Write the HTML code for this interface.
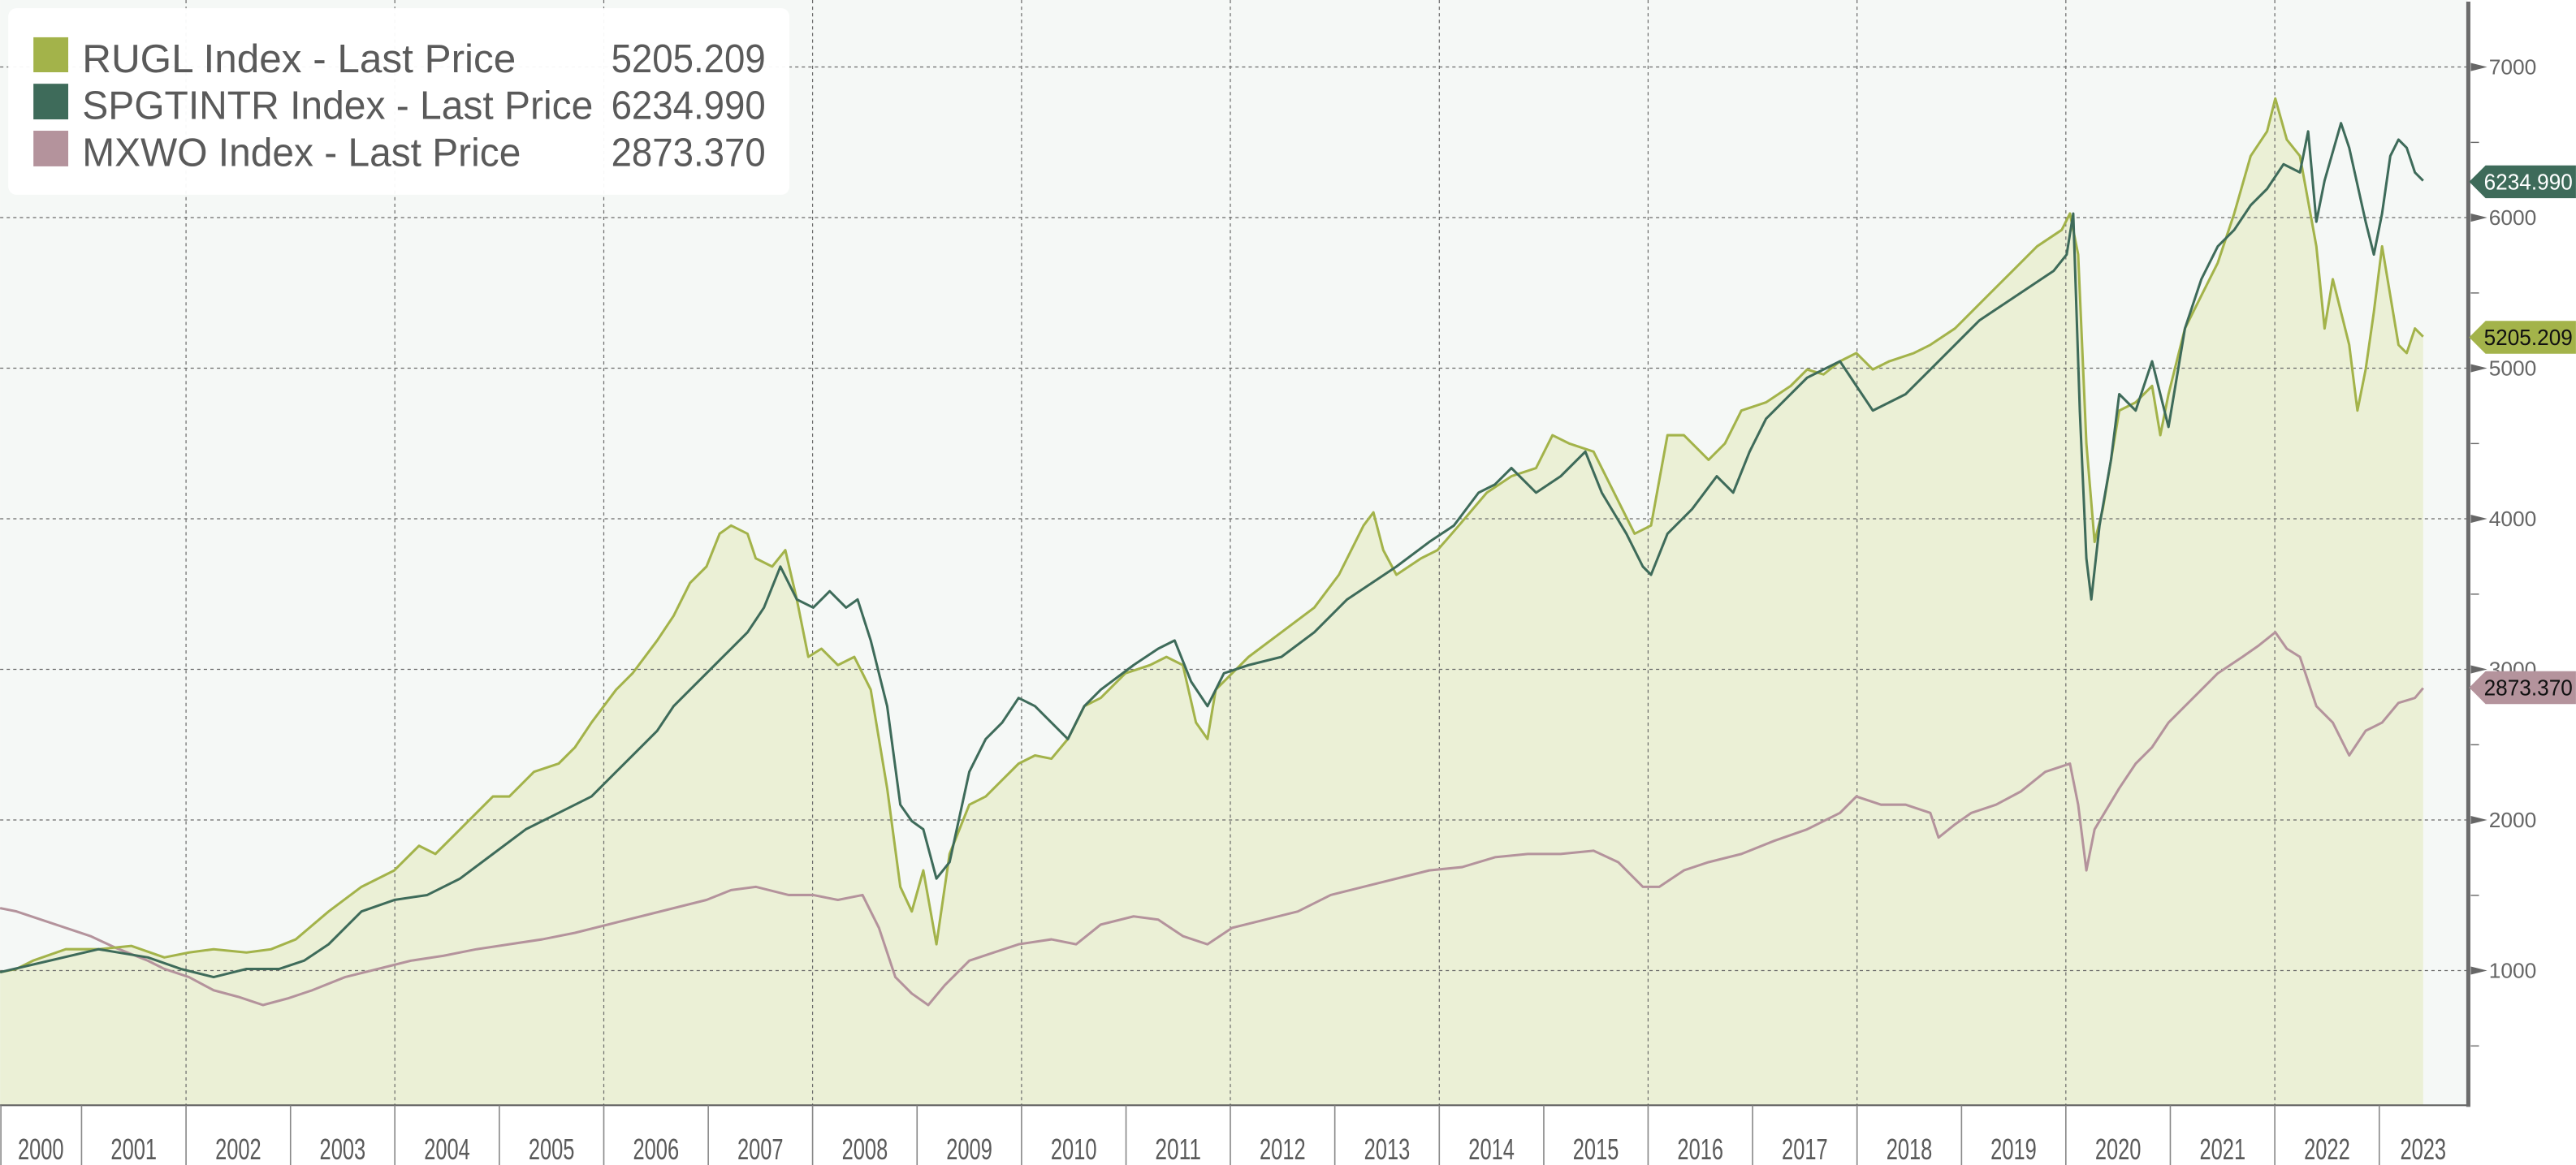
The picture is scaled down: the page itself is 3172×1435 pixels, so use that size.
<!DOCTYPE html>
<html><head><meta charset="utf-8"><style>html,body{margin:0;padding:0;background:#fff}svg{display:block}</style></head>
<body>
<svg width="3172" height="1435" viewBox="0 0 1568 709.4" xmlns="http://www.w3.org/2000/svg" font-family="'Liberation Sans', sans-serif">
<rect x="0" y="0" width="1568" height="709.4" fill="#fff"/>
<rect x="0" y="0" width="1502" height="673" fill="#f5f8f6"/>
<polygon fill="#ebf0d6" points="0,673 0,592 10,590 20,585 40,578 60,578 80,576 100,583 115,580 130,578 150,580 165,578 180,572 200,555 220,540 240,530 255,515 265,520 280,505 300,485 310,485 325,470 340,465 350,455 360,440 375,420 385,410 400,390 410,375 420,355 430,345 438,325 445,320 455,325 460,340 470,345 478,335 485,365 492,400 500,395 510,405 520,400 530,420 540,480 548,540 555,555 562,530 570,575 578,520 590,490 600,485 610,475 620,465 630,460 640,462 650,450 660,430 670,425 685,410 700,405 710,400 720,405 728,440 735,450 740,420 750,410 760,400 780,385 800,370 815,350 830,320 836,312 842,335 850,350 865,340 875,335 888,320 905,300 920,290 935,285 945,265 955,270 970,275 985,305 995,325 1005,320 1015,265 1025,265 1040,280 1050,270 1060,250 1075,245 1090,235 1100,225 1110,228 1120,220 1130,215 1140,225 1150,220 1165,215 1175,210 1190,200 1210,180 1225,165 1240,150 1255,140 1260,130 1265,155 1270,270 1275,330 1280,310 1285,280 1290,250 1300,245 1310,235 1315,265 1320,240 1330,200 1340,180 1350,160 1360,130 1370,95 1380,80 1385,60 1392,85 1400,95 1410,150 1415,200 1420,170 1430,210 1435,250 1440,225 1445,190 1450,150 1455,180 1460,210 1465,215 1470,200 1475,205 1475,673"/>
<g stroke="#6a6a6a" stroke-width="0.6" stroke-dasharray="2 2" fill="none">
<line x1="0" y1="591" x2="1502" y2="591"/><line x1="0" y1="499.3" x2="1502" y2="499.3"/><line x1="0" y1="407.6" x2="1502" y2="407.6"/><line x1="0" y1="315.9" x2="1502" y2="315.9"/><line x1="0" y1="224.2" x2="1502" y2="224.2"/><line x1="0" y1="132.5" x2="1502" y2="132.5"/><line x1="0" y1="40.8" x2="1502" y2="40.8"/>
<line x1="113.2" y1="0" x2="113.2" y2="673"/><line x1="240.3" y1="0" x2="240.3" y2="673"/><line x1="367.5" y1="0" x2="367.5" y2="673"/><line x1="494.6" y1="0" x2="494.6" y2="673"/><line x1="621.8" y1="0" x2="621.8" y2="673"/><line x1="748.9" y1="0" x2="748.9" y2="673"/><line x1="876.1" y1="0" x2="876.1" y2="673"/><line x1="1003.2" y1="0" x2="1003.2" y2="673"/><line x1="1130.4" y1="0" x2="1130.4" y2="673"/><line x1="1257.5" y1="0" x2="1257.5" y2="673"/><line x1="1384.7" y1="0" x2="1384.7" y2="673"/>
</g>
<g fill="none" stroke-width="1.5" stroke-linejoin="round">
<polyline stroke="#b4939c" points="0,553 10,555 25,560 40,565 55,570 70,577 90,585 100,590 115,595 130,603 145,607 160,612 175,608 190,603 210,595 230,590 250,585 270,582 290,578 310,575 330,572 350,568 370,563 390,558 410,553 430,548 445,542 460,540 480,545 495,545 510,548 525,545 535,565 545,595 555,605 565,612 575,600 590,585 605,580 620,575 640,572 655,575 670,563 690,558 705,560 720,570 735,575 750,565 770,560 790,555 810,545 830,540 850,535 870,530 890,528 910,522 930,520 950,520 970,518 985,525 1000,540 1010,540 1025,530 1040,525 1060,520 1080,512 1100,505 1120,495 1130,485 1145,490 1160,490 1175,495 1180,510 1190,502 1200,495 1215,490 1230,482 1245,470 1260,465 1265,490 1270,530 1275,505 1290,480 1300,465 1310,455 1320,440 1335,425 1350,410 1365,400 1375,393 1385,385 1392,395 1400,400 1410,430 1420,440 1430,460 1440,445 1450,440 1460,428 1470,425 1475,419"/>
<polyline stroke="#a3b34a" points="0,592 10,590 20,585 40,578 60,578 80,576 100,583 115,580 130,578 150,580 165,578 180,572 200,555 220,540 240,530 255,515 265,520 280,505 300,485 310,485 325,470 340,465 350,455 360,440 375,420 385,410 400,390 410,375 420,355 430,345 438,325 445,320 455,325 460,340 470,345 478,335 485,365 492,400 500,395 510,405 520,400 530,420 540,480 548,540 555,555 562,530 570,575 578,520 590,490 600,485 610,475 620,465 630,460 640,462 650,450 660,430 670,425 685,410 700,405 710,400 720,405 728,440 735,450 740,420 750,410 760,400 780,385 800,370 815,350 830,320 836,312 842,335 850,350 865,340 875,335 888,320 905,300 920,290 935,285 945,265 955,270 970,275 985,305 995,325 1005,320 1015,265 1025,265 1040,280 1050,270 1060,250 1075,245 1090,235 1100,225 1110,228 1120,220 1130,215 1140,225 1150,220 1165,215 1175,210 1190,200 1210,180 1225,165 1240,150 1255,140 1260,130 1265,155 1270,270 1275,330 1280,310 1285,280 1290,250 1300,245 1310,235 1315,265 1320,240 1330,200 1340,180 1350,160 1360,130 1370,95 1380,80 1385,60 1392,85 1400,95 1410,150 1415,200 1420,170 1430,210 1435,250 1440,225 1445,190 1450,150 1455,180 1460,210 1465,215 1470,200 1475,205"/>
<polyline stroke="#3e6b5a" points="0,592 30,585 60,578 90,583 110,590 130,595 150,590 170,590 185,585 200,575 220,555 240,548 260,545 280,535 300,520 320,505 340,495 360,485 375,470 390,455 400,445 410,430 420,420 435,405 445,395 455,385 465,370 475,345 485,365 495,370 505,360 515,370 522,365 530,390 540,430 548,490 555,500 562,505 570,535 578,525 590,470 600,450 610,440 620,425 630,430 640,440 650,450 660,430 670,420 690,405 705,395 715,390 725,415 735,430 745,410 760,405 780,400 800,385 820,365 835,355 850,345 870,330 885,320 900,300 910,295 920,285 935,300 950,290 965,275 975,300 990,325 1000,345 1005,350 1015,325 1030,310 1045,290 1055,300 1065,275 1075,255 1090,240 1100,230 1110,225 1120,220 1130,235 1140,250 1150,245 1160,240 1175,225 1190,210 1205,195 1220,185 1235,175 1250,165 1258,155 1262,130 1266,250 1270,340 1273,365 1278,320 1285,280 1290,240 1300,250 1310,220 1320,260 1330,200 1340,170 1350,150 1360,140 1370,125 1380,115 1390,100 1400,105 1405,80 1410,135 1415,110 1425,75 1430,90 1440,135 1445,155 1450,130 1455,95 1460,85 1465,90 1470,105 1475,110"/>
</g>
<line x1="0" y1="673" x2="1503" y2="673" stroke="#555" stroke-width="1"/>
<line x1="1502.5" y1="1" x2="1502.5" y2="674" stroke="#6b6b6b" stroke-width="2.5"/>
<g fill="#666">
<polygon points="1504,588.5 1514,591 1504,593.5"/><polygon points="1504,496.8 1514,499.3 1504,501.8"/><polygon points="1504,405.1 1514,407.6 1504,410.1"/><polygon points="1504,313.4 1514,315.9 1504,318.4"/><polygon points="1504,221.7 1514,224.2 1504,226.7"/><polygon points="1504,130 1514,132.5 1504,135"/><polygon points="1504,38.3 1514,40.8 1504,43.3"/>
</g>
<g stroke="#666" stroke-width="0.7">
<line x1="1504" y1="636.9" x2="1509" y2="636.9"/><line x1="1504" y1="545.2" x2="1509" y2="545.2"/><line x1="1504" y1="453.5" x2="1509" y2="453.5"/><line x1="1504" y1="361.8" x2="1509" y2="361.8"/><line x1="1504" y1="270.1" x2="1509" y2="270.1"/><line x1="1504" y1="178.4" x2="1509" y2="178.4"/><line x1="1504" y1="86.7" x2="1509" y2="86.7"/>
</g>
<g fill="#666" font-size="13">
<text x="1515" y="595.5" textLength="29" lengthAdjust="spacingAndGlyphs">1000</text>
<text x="1515" y="503.8" textLength="29" lengthAdjust="spacingAndGlyphs">2000</text>
<text x="1515" y="412.1" textLength="29" lengthAdjust="spacingAndGlyphs">3000</text>
<text x="1515" y="320.4" textLength="29" lengthAdjust="spacingAndGlyphs">4000</text>
<text x="1515" y="228.7" textLength="29" lengthAdjust="spacingAndGlyphs">5000</text>
<text x="1515" y="137" textLength="29" lengthAdjust="spacingAndGlyphs">6000</text>
<text x="1515" y="45.3" textLength="29" lengthAdjust="spacingAndGlyphs">7000</text>
</g>
<polygon fill="#3e6b5a" points="1503,110.7 1513,100.7 1568,100.7 1568,120.7 1513,120.7"/>
<text x="1512" y="115.5" font-size="13.5" fill="#fff" textLength="54" lengthAdjust="spacingAndGlyphs">6234.990</text>
<polygon fill="#a3b34a" points="1503,205.4 1513,195.4 1568,195.4 1568,215.4 1513,215.4"/>
<text x="1512" y="210.2" font-size="13.5" fill="#111" textLength="54" lengthAdjust="spacingAndGlyphs">5205.209</text>
<polygon fill="#b4939c" points="1503,418.7 1513,408.7 1568,408.7 1568,428.7 1513,428.7"/>
<text x="1512" y="423.5" font-size="13.5" fill="#111" textLength="54" lengthAdjust="spacingAndGlyphs">2873.370</text>
<g stroke="#888" stroke-width="0.8">
<line x1="49.6" y1="673" x2="49.6" y2="709.4"/><line x1="113.2" y1="673" x2="113.2" y2="709.4"/><line x1="176.8" y1="673" x2="176.8" y2="709.4"/><line x1="240.3" y1="673" x2="240.3" y2="709.4"/><line x1="303.9" y1="673" x2="303.9" y2="709.4"/><line x1="367.5" y1="673" x2="367.5" y2="709.4"/><line x1="431.1" y1="673" x2="431.1" y2="709.4"/><line x1="494.6" y1="673" x2="494.6" y2="709.4"/><line x1="558.2" y1="673" x2="558.2" y2="709.4"/><line x1="621.8" y1="673" x2="621.8" y2="709.4"/><line x1="685.4" y1="673" x2="685.4" y2="709.4"/><line x1="748.9" y1="673" x2="748.9" y2="709.4"/><line x1="812.5" y1="673" x2="812.5" y2="709.4"/><line x1="876.1" y1="673" x2="876.1" y2="709.4"/><line x1="939.7" y1="673" x2="939.7" y2="709.4"/><line x1="1003.2" y1="673" x2="1003.2" y2="709.4"/><line x1="1066.8" y1="673" x2="1066.8" y2="709.4"/><line x1="1130.4" y1="673" x2="1130.4" y2="709.4"/><line x1="1194" y1="673" x2="1194" y2="709.4"/><line x1="1257.5" y1="673" x2="1257.5" y2="709.4"/><line x1="1321.1" y1="673" x2="1321.1" y2="709.4"/><line x1="1384.7" y1="673" x2="1384.7" y2="709.4"/><line x1="1448.3" y1="673" x2="1448.3" y2="709.4"/>
<line x1="0.5" y1="673" x2="0.5" y2="709.4"/>
</g>
<g fill="#5a5a5a" font-size="18" text-anchor="middle">
<text x="24.8" y="706" textLength="28" lengthAdjust="spacingAndGlyphs">2000</text>
<text x="81.4" y="706" textLength="28" lengthAdjust="spacingAndGlyphs">2001</text>
<text x="145" y="706" textLength="28" lengthAdjust="spacingAndGlyphs">2002</text>
<text x="208.5" y="706" textLength="28" lengthAdjust="spacingAndGlyphs">2003</text>
<text x="272.1" y="706" textLength="28" lengthAdjust="spacingAndGlyphs">2004</text>
<text x="335.7" y="706" textLength="28" lengthAdjust="spacingAndGlyphs">2005</text>
<text x="399.3" y="706" textLength="28" lengthAdjust="spacingAndGlyphs">2006</text>
<text x="462.8" y="706" textLength="28" lengthAdjust="spacingAndGlyphs">2007</text>
<text x="526.4" y="706" textLength="28" lengthAdjust="spacingAndGlyphs">2008</text>
<text x="590" y="706" textLength="28" lengthAdjust="spacingAndGlyphs">2009</text>
<text x="653.6" y="706" textLength="28" lengthAdjust="spacingAndGlyphs">2010</text>
<text x="717.1" y="706" textLength="28" lengthAdjust="spacingAndGlyphs">2011</text>
<text x="780.7" y="706" textLength="28" lengthAdjust="spacingAndGlyphs">2012</text>
<text x="844.3" y="706" textLength="28" lengthAdjust="spacingAndGlyphs">2013</text>
<text x="907.9" y="706" textLength="28" lengthAdjust="spacingAndGlyphs">2014</text>
<text x="971.4" y="706" textLength="28" lengthAdjust="spacingAndGlyphs">2015</text>
<text x="1035" y="706" textLength="28" lengthAdjust="spacingAndGlyphs">2016</text>
<text x="1098.6" y="706" textLength="28" lengthAdjust="spacingAndGlyphs">2017</text>
<text x="1162.2" y="706" textLength="28" lengthAdjust="spacingAndGlyphs">2018</text>
<text x="1225.7" y="706" textLength="28" lengthAdjust="spacingAndGlyphs">2019</text>
<text x="1289.3" y="706" textLength="28" lengthAdjust="spacingAndGlyphs">2020</text>
<text x="1352.9" y="706" textLength="28" lengthAdjust="spacingAndGlyphs">2021</text>
<text x="1416.5" y="706" textLength="28" lengthAdjust="spacingAndGlyphs">2022</text>
<text x="1475" y="706" textLength="28" lengthAdjust="spacingAndGlyphs">2023</text>
</g>
<rect x="5" y="5" width="475.5" height="113.6" rx="5" fill="#fff" fill-opacity="0.95"/>
<rect x="20.3" y="22.7" width="21.2" height="21.3" fill="#a3b34a"/>
<rect x="20.3" y="51" width="21.2" height="21.7" fill="#3e6b5a"/>
<rect x="20.3" y="79.6" width="21.2" height="21.7" fill="#b4939c"/>
<g fill="#5a5a5a" font-size="24.5">
<text x="50" y="44" textLength="264" lengthAdjust="spacingAndGlyphs">RUGL Index - Last Price</text>
<text x="50" y="72.5" textLength="311" lengthAdjust="spacingAndGlyphs">SPGTINTR Index - Last Price</text>
<text x="50" y="101" textLength="267" lengthAdjust="spacingAndGlyphs">MXWO Index - Last Price</text>
<text x="466" y="44" text-anchor="end" textLength="94" lengthAdjust="spacingAndGlyphs">5205.209</text>
<text x="466" y="72.5" text-anchor="end" textLength="94" lengthAdjust="spacingAndGlyphs">6234.990</text>
<text x="466" y="101" text-anchor="end" textLength="94" lengthAdjust="spacingAndGlyphs">2873.370</text>
</g>
</svg>
</body></html>
